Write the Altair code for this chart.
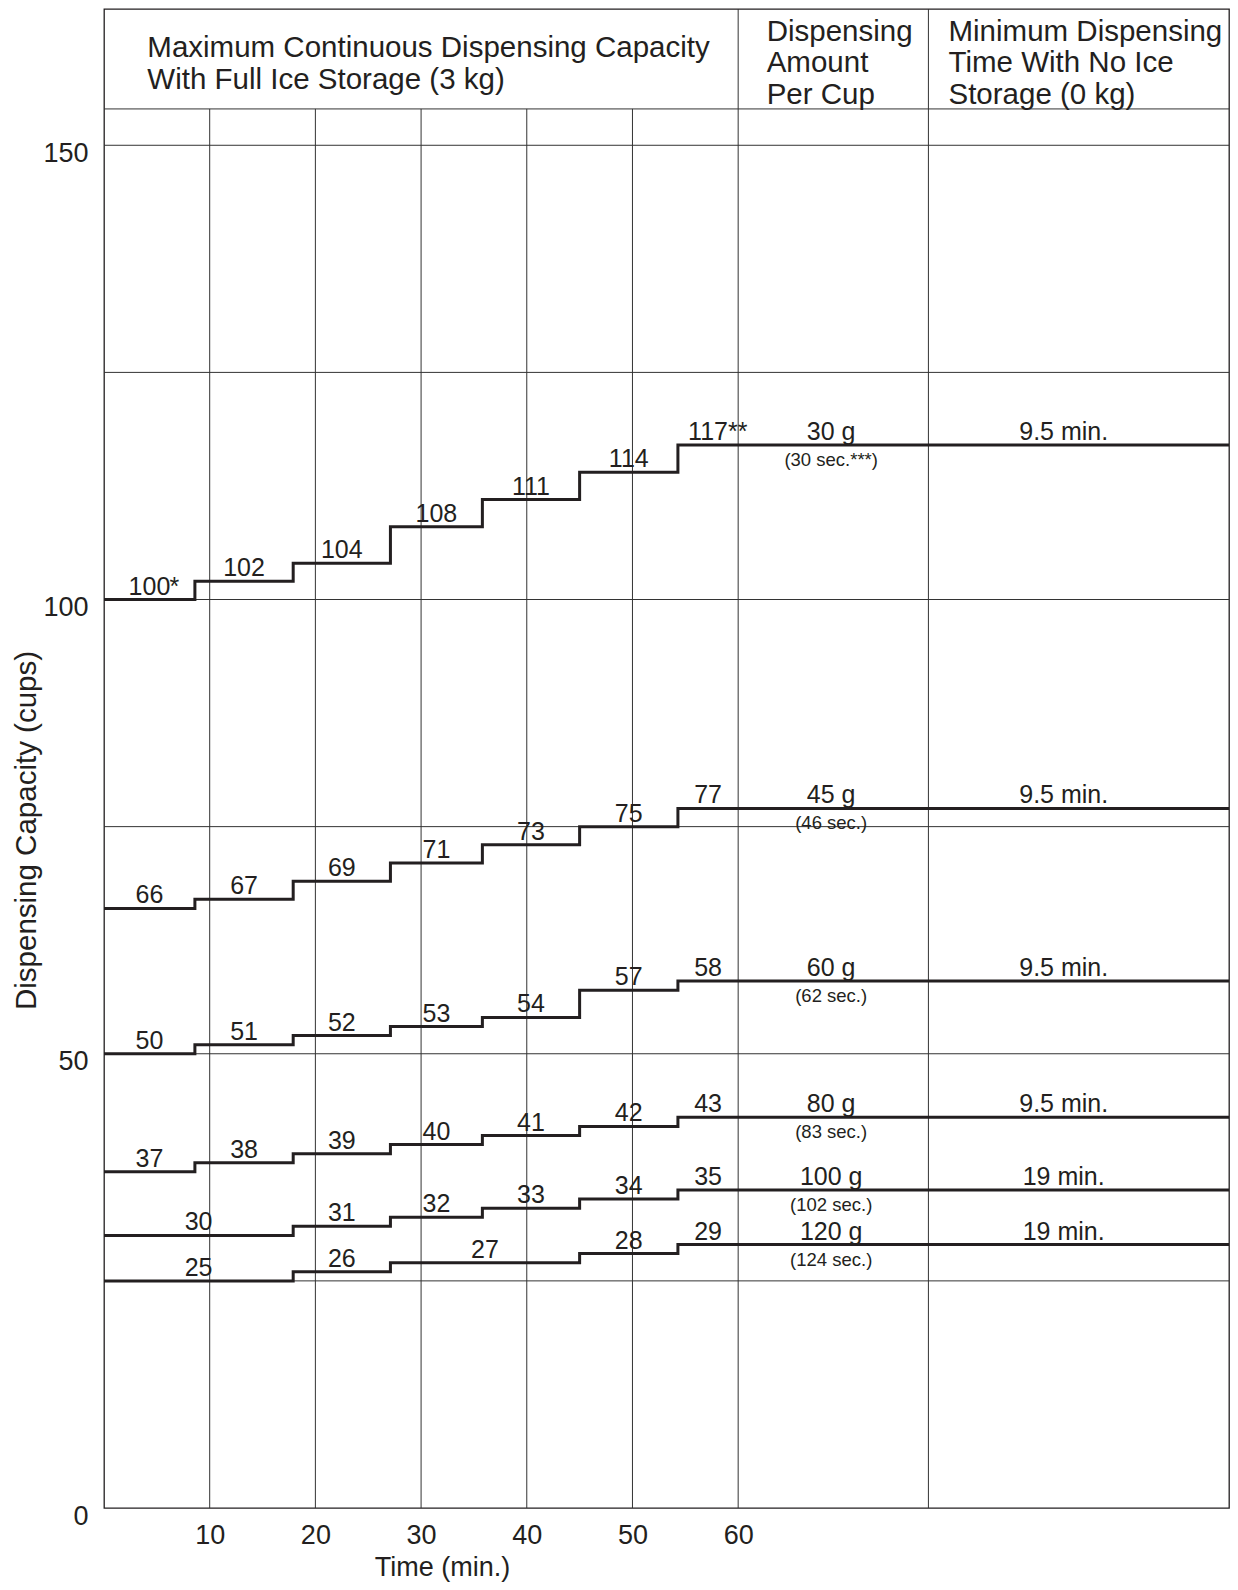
import altair as alt
import pandas as pd

FONT = "Liberation Sans, Arial, Helvetica, sans-serif"
INK = "#231f20"
GRID = "#333333"

# ---------------- data ----------------
# start time (min.) of each dispensing step
step_times = [0, 8.6, 17.9, 27.1, 35.8, 45.0, 54.3]
time_end = 60          # end of the time scale
x_max = 106.44         # right edge of the table
y_max = 165            # top edge of the table
header_bottom = 154    # line under the column headings

series_names = ["30 g", "45 g", "60 g", "80 g", "100 g", "120 g"]
cap_30g = [100, 102, 104, 108, 111, 114, 117]
cap_45g = [66, 67, 69, 71, 73, 75, 77]
cap_60g = [50, 51, 52, 53, 54, 57, 58]
cap_80g = [37, 38, 39, 40, 41, 42, 43]
cap_100g = [30, 30, 31, 32, 33, 34, 35]
cap_120g = [25, 25, 26, 27, 27, 28, 29]
capacities = [cap_30g, cap_45g, cap_60g, cap_80g, cap_100g, cap_120g]

dispense_seconds = ["(30 sec.***)", "(46 sec.)", "(62 sec.)", "(83 sec.)", "(102 sec.)", "(124 sec.)"]
min_dispense_time = ["9.5 min.", "9.5 min.", "9.5 min.", "9.5 min.", "19 min.", "19 min."]
footnote_marks = {("30 g", 100): "*", ("30 g", 117): "**"}

x_ticks = [10, 20, 30, 40, 50, 60]
y_ticks = [0, 50, 100, 150]
h_grid = [25, 50, 75, 100, 125, 150]
v_grid_short = [10, 20, 30, 40, 50]
column_lines = [60, 78]

header_texts = [
    "Maximum Continuous Dispensing Capacity\nWith Full Ice Storage (3 kg)",
    "Dispensing\nAmount\nPer Cup",
    "Minimum Dispensing\nTime With No Ice\nStorage (0 kg)",
]

# ---------------- tables built from the arrays ----------------
line_rows, lab_rows, mark_rows, right_rows = [], [], [], []
for name, vals, secs, mins in zip(series_names, capacities, dispense_seconds, min_dispense_time):
    for t, v in zip(step_times, vals):
        line_rows.append({"series": name, "t": t, "cups": v})
    line_rows.append({"series": name, "t": x_max, "cups": vals[-1]})
    start = 0
    for i in range(1, len(vals) + 1):
        if i == len(vals) or vals[i] != vals[start]:
            x0 = step_times[start]
            x1 = step_times[i] if i < len(vals) else time_end
            xc = (x0 + x1) / 2
            lab_rows.append({"t": xc, "cups": vals[start], "txt": str(vals[start])})
            if (name, vals[start]) in footnote_marks:
                mark_rows.append({"t": xc, "cups": vals[start], "txt": footnote_marks[(name, vals[start])]})
            start = i
    right_rows.append({"cups": vals[-1], "amount": name, "secs": secs, "mins": mins})

lines_df = pd.DataFrame(line_rows)
labels_df = pd.DataFrame(lab_rows)
marks_df = pd.DataFrame(mark_rows)
right_df = pd.DataFrame(right_rows)
right_df["amt_x"] = (column_lines[0] + column_lines[1]) / 2 - 0.2
right_df["min_x"] = 90.8

rules = []
for y in h_grid + [header_bottom]:
    rules.append({"x": 0, "x2": x_max, "y": y, "y2": y})
for x in v_grid_short:
    rules.append({"x": x, "x2": x, "y": 0, "y2": header_bottom})
for x in column_lines:
    rules.append({"x": x, "x2": x, "y": 0, "y2": y_max})
rules_df = pd.DataFrame(rules)

header_df = pd.DataFrame({
    "txt": header_texts,
    "x": [4.1, column_lines[0] + 2.7, column_lines[1] + 1.9],
    "y": [159.7, 161.5, 161.5],
})

# ---------------- scales ----------------
xs = alt.Scale(domain=[0, x_max], nice=False, zero=False)
ys = alt.Scale(domain=[0, y_max], nice=False, zero=False)

grid = alt.Chart(rules_df).mark_rule(color=GRID, strokeWidth=1).encode(
    x=alt.X("x:Q", scale=xs, axis=alt.Axis(
        values=x_ticks, title="Time (min.)", labelFontSize=27, labelFont=FONT,
        labelColor=INK, labelPadding=14, ticks=False, tickSize=0, domain=False, grid=False,
        titleFont=FONT, titleFontSize=27, titleFontWeight="normal", titleColor=INK,
        titleX=338, titleY=67, titleAlign="center", titleBaseline="alphabetic")),
    x2="x2:Q",
    y=alt.Y("y:Q", scale=ys, axis=alt.Axis(
        values=y_ticks, title="Dispensing Capacity (cups)", labelFontSize=27, labelFont=FONT,
        labelColor=INK, labelPadding=16, labelOffset=8, ticks=False, tickSize=0, domain=False,
        grid=False, titleFont=FONT, titleFontSize=29.5, titleFontWeight="normal", titleColor=INK,
        titleAngle=270, titleX=-78, titleY=821, titleAlign="center", titleBaseline="middle")),
    y2="y2:Q",
)

steps = alt.Chart(lines_df).mark_line(interpolate="step-after", strokeWidth=3, color=INK).encode(
    x=alt.X("t:Q", scale=xs),
    y=alt.Y("cups:Q", scale=ys),
    detail="series:N",
)

step_labels = alt.Chart(labels_df).mark_text(
    font=FONT, fontSize=25, color=INK, baseline="alphabetic", align="center", dy=-5
).encode(x=alt.X("t:Q", scale=xs), y=alt.Y("cups:Q", scale=ys), text="txt:N")

foot_labels = alt.Chart(marks_df).mark_text(
    font=FONT, fontSize=25, color=INK, baseline="alphabetic", align="left", dx=20, dy=-5
).encode(x=alt.X("t:Q", scale=xs), y=alt.Y("cups:Q", scale=ys), text="txt:N")

amount_labels = alt.Chart(right_df).mark_text(
    font=FONT, fontSize=25, color=INK, baseline="alphabetic", align="center", dy=-5
).encode(x=alt.X("amt_x:Q", scale=xs), y=alt.Y("cups:Q", scale=ys), text="amount:N")

secs_labels = alt.Chart(right_df).mark_text(
    font=FONT, fontSize=18.5, color=INK, baseline="top", align="center", dy=6
).encode(x=alt.X("amt_x:Q", scale=xs), y=alt.Y("cups:Q", scale=ys), text="secs:N")

min_labels = alt.Chart(right_df).mark_text(
    font=FONT, fontSize=25, color=INK, baseline="alphabetic", align="center", dy=-5
).encode(x=alt.X("min_x:Q", scale=xs), y=alt.Y("cups:Q", scale=ys), text="mins:N")

headers = alt.Chart(header_df).mark_text(
    font=FONT, fontSize=29.5, color=INK, baseline="alphabetic", align="left",
    lineBreak="\n", lineHeight=31.5
).encode(x=alt.X("x:Q", scale=xs), y=alt.Y("y:Q", scale=ys), text="txt:N")

chart = alt.layer(
    grid, steps, step_labels, foot_labels, amount_labels, secs_labels, min_labels, headers
).properties(
    width=1125, height=1499,
    autosize=alt.AutoSizeParams(type="none"),
    padding={"left": 96, "top": 1, "right": 1, "bottom": 74},
    background="white",
).configure_view(
    stroke=INK, strokeWidth=1.3
)

chart.save("out.html", embed_options={"renderer": "svg", "actions": False})
